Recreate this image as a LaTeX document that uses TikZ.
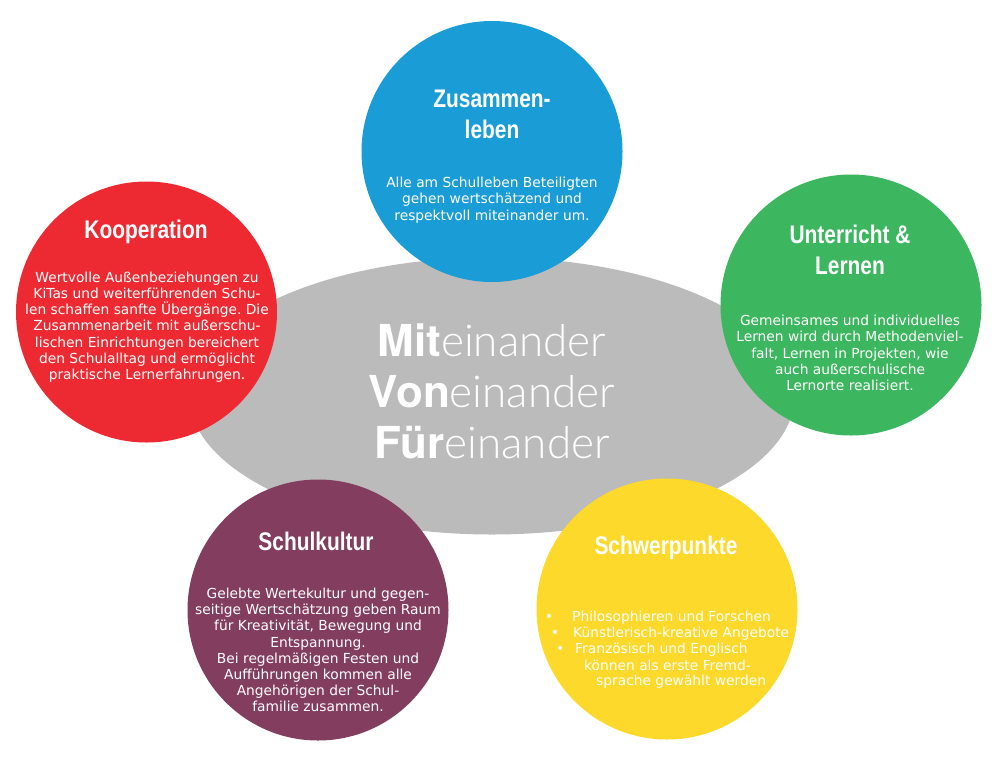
\documentclass[tikz,border=0pt]{standalone}
\usepackage{fontspec}
\setmainfont{DejaVu Sans}
\newfontfamily\titlefont{Liberation Sans}[FakeStretch=0.82]
\newfontfamily\heavyfont{TeX Gyre Heros}
\newfontfamily\lightfont{Lato Light}
\usetikzlibrary{shapes.geometric}
\frenchspacing
\definecolor{cblue}{RGB}{26,156,214}
\definecolor{cred}{RGB}{237,42,50}
\definecolor{cgreen}{RGB}{61,182,96}
\definecolor{cpurple}{RGB}{130,61,95}
\definecolor{cyellow}{RGB}{252,217,42}
\definecolor{cgray}{RGB}{187,187,187}
\tikzset{
  disc/.style={circle, fill=#1, minimum size=261pt, inner sep=0pt},
  ttl/.style={text=white, align=center, font=\titlefont\bfseries\fontsize{25.5}{31}\selectfont},
  body/.style={text=white, align=center, font=\frenchspacing\fontsize{13.8}{16.2}\selectfont},
  bline/.style={text=white, anchor=base west, inner sep=0pt, font=\fontsize{13.8}{16.2}\selectfont},
  core/.style={text=white, anchor=base, inner sep=0pt, font=\fontsize{44}{50}\selectfont}
}
\begin{document}
\begin{tikzpicture}[x=1pt,y=-1pt]
\useasboundingbox (0,0) rectangle (999,761);
\fill[white] (0,0) rectangle (999,761);
\node[ellipse, fill=cgray, minimum width=605pt, minimum height=277pt, inner sep=0pt] (center) at (492,396) {};
\node[disc=cblue] (zus) at (492,151.5) {};
\node[disc=cred] (koop) at (146.5,312) {};
\node[disc=cgreen] (unt) at (851,305) {};
\node[disc=cpurple] (kult) at (318,610) {};
\node[disc=cyellow] (schw) at (667,609) {};

\node[core] (mit) at (492,356) {{\heavyfont\bfseries Mit}{\lightfont einander}};
\node[core] (von) at (492,407) {{\heavyfont\bfseries Von}{\lightfont einander}};
\node[core] (fuer) at (492,458) {{\heavyfont\bfseries Für}{\lightfont einander}};

\node[ttl] (zust) at (492,114) {Zusammen-\\leben};
\node[body] (zusb) at (492,200) {Alle am Schulleben Beteiligten\\gehen wertschätzend und\\respektvoll miteinander um.};

\node[ttl] (koopt) at (146,232) {Kooperation};
\node[body] (koopb) at (147,327) {Wertvolle Außenbeziehungen zu\\KiTas und weiterführenden Schu-\\len schaffen sanfte Übergänge. Die\\Zusammenarbeit mit außerschu-\\lischen Einrichtungen bereichert\\den Schulalltag und ermöglicht\\praktische Lernerfahrungen.};

\node[ttl] (untt) at (850,250) {Unterricht \&\\Lernen};
\node[body] (untb) at (850,353) {Gemeinsames und individuelles\\Lernen wird durch Methodenviel-\\falt, Lernen in Projekten, wie\\auch außerschulische\\Lernorte realisiert.};

\node[ttl] (kultt) at (316,541) {Schulkultur};
\node[body] (kultb) at (318,650) {Gelebte Wertekultur und gegen-\\seitige Wertschätzung geben Raum\\für Kreativität, Bewegung und\\Entspannung.\\Bei regelmäßigen Festen und\\Aufführungen kommen alle\\Angehörigen der Schul-\\familie zusammen.};

\node[ttl] (schwt) at (666,548) {Schwerpunkte};
\node[bline] (s1b) at (545,621) {•};
\node[bline] (s1) at (572,621) {Philosophieren und Forschen};
\node[bline] (s2b) at (551,637.5) {•};
\node[bline] (s2) at (573,637.5) {Künstlerisch-kreative Angebote};
\node[bline] (s3b) at (556,653.5) {•};
\node[bline] (s3) at (575,653.5) {Französisch und Englisch};
\node[bline] (s4) at (584,670) {können als erste Fremd-};
\node[bline] (s5) at (596,685.5) {sprache gewählt werden};
\end{tikzpicture}
\end{document}
